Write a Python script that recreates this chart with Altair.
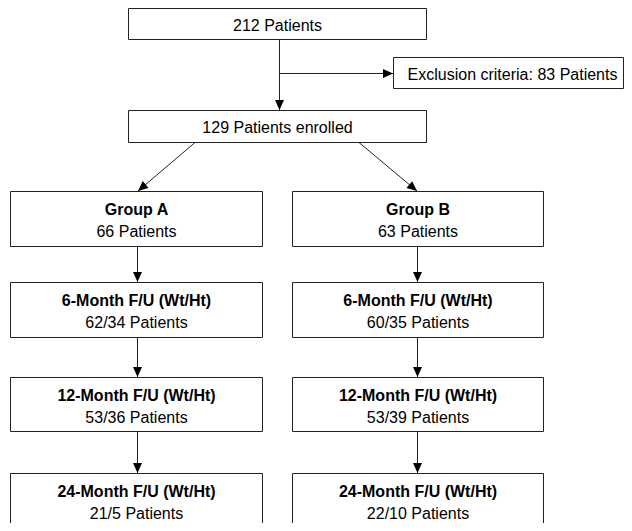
import altair as alt
import pandas as pd
import numpy as np

# ---- flowchart content ----
box_title = ["", "", "", "Group A", "Group B",
             "6-Month F/U (Wt/Ht)", "6-Month F/U (Wt/Ht)",
             "12-Month F/U (Wt/Ht)", "12-Month F/U (Wt/Ht)",
             "24-Month F/U (Wt/Ht)", "24-Month F/U (Wt/Ht)"]
box_text = ["212 Patients", "Exclusion criteria: 83 Patients", "129 Patients enrolled",
            "66 Patients", "63 Patients",
            "62/34 Patients", "60/35 Patients",
            "53/36 Patients", "53/39 Patients",
            "21/5 Patients", "22/10 Patients"]

# ---- layout (page pixel coordinates) ----
box_x1 = [128.5, 393.5, 128.5, 10.5, 292.5, 10.5, 292.5, 10.5, 292.5, 10.5, 292.5]
box_x2 = [426.5, 631.5, 426.5, 262.5, 543.5, 262.5, 543.5, 262.5, 543.5, 262.5, 543.5]
box_y1 = [8.5, 57.5, 110.5, 191.5, 191.5, 282.5, 282.5, 377.5, 377.5, 473.5, 473.5]
box_y2 = [39.5, 88.5, 142.5, 246.5, 246.5, 337.5, 337.5, 431.5, 431.5, 545.0, 545.0]

# connectors: (x1, y1) -> (x2, y2), arrow tip at (x2, y2)
seg_x1 = [279.5, 279.5, 195.0, 359.0, 137.5, 417.5, 137.5, 417.5, 137.5, 417.5]
seg_y1 = [39.5, 73.5, 142.5, 142.5, 246.5, 246.5, 337.5, 337.5, 431.5, 431.5]
seg_x2 = [279.5, 393.0, 138.0, 417.0, 137.5, 417.5, 137.5, 417.5, 137.5, 417.5]
seg_y2 = [110.0, 73.5, 191.0, 191.0, 282.0, 282.0, 377.0, 377.0, 473.0, 473.0]

FONT = "Liberation Sans, Arial, Helvetica, sans-serif"
STROKE = "#222222"
RIGHT_EDGE = 623.5  # last visible pixel column of the chart area

boxes = pd.DataFrame({"x1": box_x1, "x2": box_x2, "y1": box_y1, "y2": box_y2,
                      "title": box_title, "text": box_text})
boxes["cx"] = (boxes["x1"] + boxes["x2"]) / 2
boxes["x2v"] = np.minimum(boxes["x2"], RIGHT_EDGE)
two = boxes["title"] != ""
boxes["ty"] = np.where(two, boxes["y1"] + 23, 0)
boxes["vy"] = np.where(two, boxes["y1"] + 45, (boxes["y1"] + boxes["y2"]) / 2 + 6.5)

segs = pd.DataFrame({"x1": seg_x1, "y1": seg_y1, "x2": seg_x2, "y2": seg_y2})
dx = segs["x2"] - segs["x1"]
dy = segs["y2"] - segs["y1"]
segs["angle"] = np.mod(np.degrees(np.arctan2(-dx, dy)), 360)

xs = alt.Scale(domain=[8, 624], nice=False, zero=False)
ys = alt.Scale(domain=[8, 523], nice=False, zero=False, reverse=True)

rects = alt.Chart(boxes).mark_rect(fill="white", stroke=STROKE, strokeWidth=1, clip=False).encode(
    x=alt.X("x1:Q", scale=xs, axis=None), x2="x2v:Q",
    y=alt.Y("y1:Q", scale=ys, axis=None), y2="y2:Q")

titles = alt.Chart(boxes[two]).mark_text(font=FONT, fontSize=16, fontWeight="bold",
                                         baseline="alphabetic", align="center", color="black").encode(
    x=alt.X("cx:Q", scale=xs, axis=None), y=alt.Y("ty:Q", scale=ys, axis=None), text="title:N")

values = alt.Chart(boxes).mark_text(font=FONT, fontSize=16, baseline="alphabetic",
                                    align="center", color="black").encode(
    x=alt.X("cx:Q", scale=xs, axis=None), y=alt.Y("vy:Q", scale=ys, axis=None), text="text:N")

lines = alt.Chart(segs).mark_rule(color=STROKE, strokeWidth=1).encode(
    x=alt.X("x1:Q", scale=xs, axis=None), x2="x2:Q",
    y=alt.Y("y1:Q", scale=ys, axis=None), y2="y2:Q")

heads = alt.Chart(segs).mark_point(shape="M0,0L-0.45,-1L0.45,-1Z", filled=True, fill="black",
                                   stroke=None, size=400, opacity=1).encode(
    x=alt.X("x2:Q", scale=xs, axis=None), y=alt.Y("y2:Q", scale=ys, axis=None),
    angle=alt.Angle("angle:Q", scale=None))

chart = alt.layer(lines, rects, heads, titles, values).properties(
    width=616, height=515, padding=0, autosize=alt.AutoSizeParams(type="none"),
    background="white"
).configure_view(strokeWidth=0)

chart.save("out.html", embed_options={"renderer": "svg", "actions": False})
